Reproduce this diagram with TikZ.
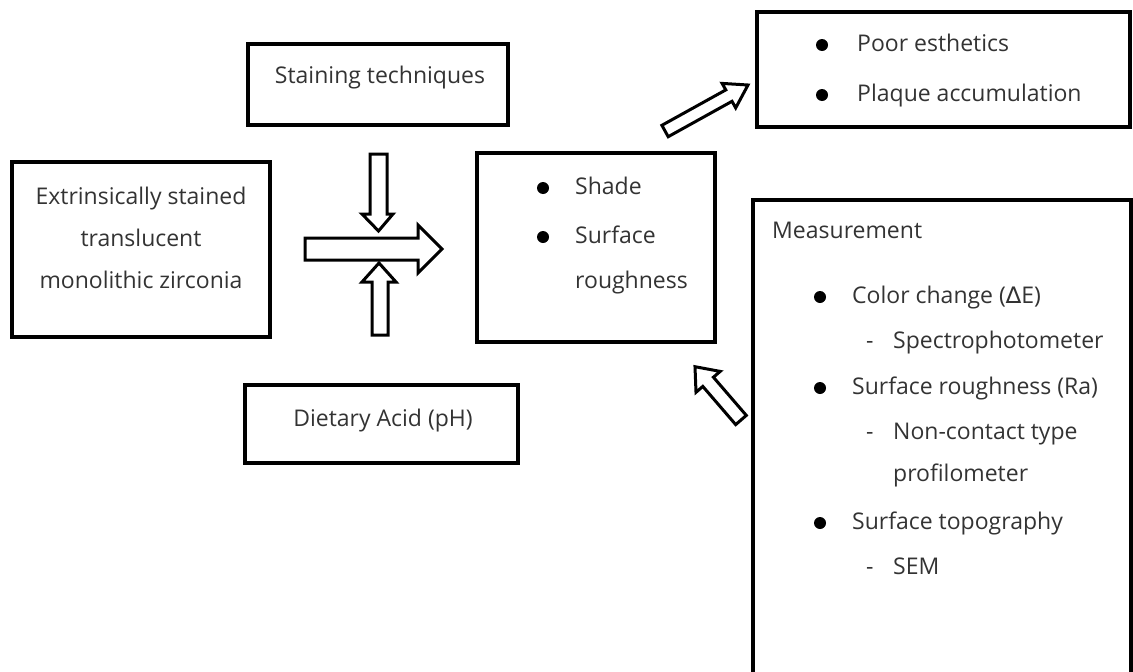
\documentclass[tikz,border=0pt]{standalone}
\usepackage{fontspec}
\setmainfont{Open Sans}
\newfontfamily\dvfont{DejaVu Sans}
\begin{document}
\begin{tikzpicture}[x=1pt,y=-1pt,
  box/.style={draw,line width=3.4pt,inner sep=0pt},
  blk/.style={draw,line width=3pt,line join=miter,fill=white},
  txt/.style={font=\fontsize{23}{27}\selectfont,text=black!80,inner sep=0pt},
  dot/.style={circle,fill=black,inner sep=0pt,minimum size=12pt}]
\useasboundingbox (0,0) rectangle (1133,672);
% boxes
\node[box,minimum width=258pt,minimum height=175pt] (src) at (141,249.5) {};
\node[box,minimum width=260pt,minimum height=81pt] (stain) at (378,84.5) {};
\node[box,minimum width=273pt,minimum height=78pt] (diet) at (381.5,424) {};
\node[box,minimum width=238pt,minimum height=189pt] (mid) at (596,247.5) {};
\node[box,minimum width=373pt,minimum height=115pt] (out) at (943.5,69.5) {};
\node[box,minimum width=378pt,minimum height=500pt] (meas) at (942,450) {};
% texts
\node[txt,anchor=mid] (t1) at (141,202) {Extrinsically stained};
\node[txt,anchor=mid] (t2) at (141,244) {translucent};
\node[txt,anchor=mid] (t3) at (141,286) {monolithic zirconia};
\node[txt,anchor=mid] (ts) at (380,81) {Staining techniques};
\node[txt,anchor=mid] (td) at (383,424) {Dietary Acid (pH)};
\node[dot] (m1) at (543,188) {};
\node[dot] (m2) at (543,237) {};
\node[txt,anchor=mid west] (tm1) at (575,192) {Shade};
\node[txt,anchor=mid west] (tm2) at (575,241) {Surface};
\node[txt,anchor=mid west] (tm3) at (575,286) {roughness};
\node[dot] (o1) at (822,45) {};
\node[dot] (o2) at (822,95) {};
\node[txt,anchor=mid west] (to1) at (857,49) {Poor esthetics};
\node[txt,anchor=mid west] (to2) at (857,99) {Plaque accumulation};
\node[txt,anchor=mid west] (me) at (772,236) {Measurement};
\node[dot] (d1) at (820,297) {};
\node[dot] (d2) at (820,388) {};
\node[dot] (d3) at (820,523) {};
\node[txt,anchor=mid west] (c1) at (852,301) {Color change ({\dvfont ∆}E)};
\node[txt,anchor=mid west] (c1a) at (866,346) {-};
\node[txt,anchor=mid west] (c1b) at (893,346) {Spectrophotometer};
\node[txt,anchor=mid west] (c2) at (852,392) {Surface roughness (Ra)};
\node[txt,anchor=mid west] (c2a) at (866,437) {-};
\node[txt,anchor=mid west] (c2b) at (893,437) {Non-contact type};
\node[txt,anchor=mid west] (c2c) at (893,479) {profilometer};
\node[txt,anchor=mid west] (c3) at (852,527) {Surface topography};
\node[txt,anchor=mid west] (c3a) at (866,572) {-};
\node[txt,anchor=mid west] (c3b) at (893,572) {SEM};
% block arrows
\draw[blk] (305,238)--(418,238)--(418,225)--(442,249)--(418,273)--(418,260)--(305,260)--cycle;
\draw[blk] (370,154)--(387,154)--(387,214)--(393,214)--(378.5,231)--(362,214)--(370,214)--cycle;
\draw[blk] (372,335)--(388,335)--(388,282)--(396,282)--(379,263)--(362,282)--(372,282)--cycle;
\draw[blk] (668.2,136.7)--(732.0,101.3)--(735.7,107.9)--(748,85)--(722.1,83.4)--(725.8,89.9)--(661.9,125.3)--cycle;
\draw[blk] (746.3,415.4)--(713.4,377.2)--(720.2,371.4)--(695,366.7)--(696.0,392.3)--(702.8,386.4)--(735.7,424.6)--cycle;
\end{tikzpicture}
\end{document}
